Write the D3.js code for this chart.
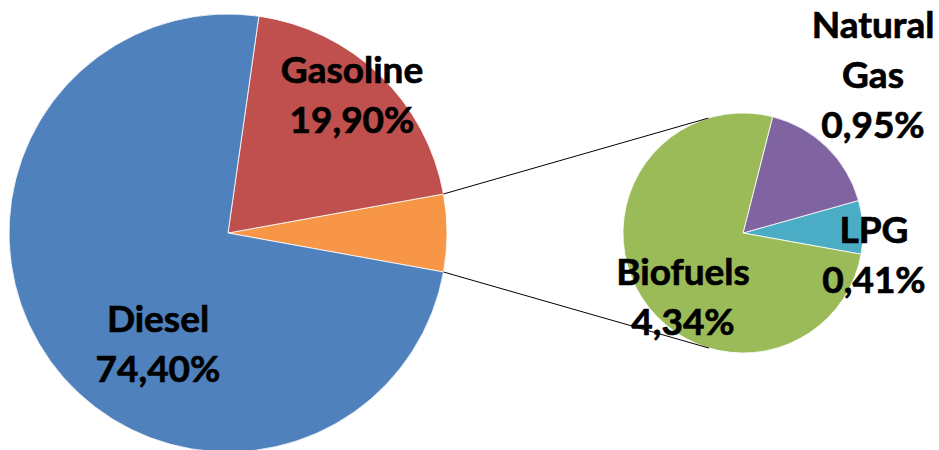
<!DOCTYPE html>
<html>
<head>
<meta charset="utf-8">
<script src="https://cdn.jsdelivr.net/npm/d3@7"></script>
<style>
  html, body { margin: 0; padding: 0; background: #fff; }
  svg { display: block; }
  text { font-family: Lato, "Open Sans", sans-serif; font-weight: 700; fill: #000; stroke: #000; stroke-width: 0.7px; }
</style>
</head>
<body>
<svg id="chart" width="939" height="450"></svg>
<script>
// ---- data ----
const mainCategories = ["Other", "Gasoline", "Diesel"];
const mainValues = [5.70, 19.90, 74.40];
const mainColors = ["#F79646", "#C0504D", "#4F81BD"];

const subCategories = ["LPG", "Natural Gas", "Biofuels"];
const subValues = [0.41, 0.95, 4.34];
const subColors = ["#4BACC6", "#8064A2", "#9BBB59"];

const labelLines = {
  "Gasoline": ["Gasoline", "19,90%"],
  "Diesel": ["Diesel", "74,40%"],
  "Natural Gas": ["Natural", "Gas", "0,95%"],
  "LPG": ["LPG", "0,41%"],
  "Biofuels": ["Biofuels", "4,34%"]
};

// ---- layout ----
const svg = d3.select("#chart");
const deg = Math.PI / 180;
const main = { cx: 228, cy: 233, r: 219 };
const sub = { cx: 743, cy: 233, r: 120 };
const fontSize = 37, lineH = 50;
// label anchor (center x, first baseline y)
const labelPos = {
  "Gasoline": [352, 83],
  "Diesel": [158, 332],
  "Natural Gas": [873, 38],
  "LPG": [874, 243],
  "Biofuels": [683, 285]
};

// main pie: "Other" slice centred on the right-hand horizontal, going counter-clockwise
const otherShare = mainValues[0] / d3.sum(mainValues);
const mainStart = 90 * deg + otherShare * Math.PI;
const mainPie = d3.pie().sort(null).startAngle(mainStart).endAngle(mainStart - 2 * Math.PI);
const mainArcs = mainPie(mainValues);
const mainArc = d3.arc().innerRadius(0).outerRadius(main.r);

const gMain = svg.append("g").attr("transform", `translate(${main.cx},${main.cy})`);
gMain.selectAll("path").data(mainArcs).join("path")
  .attr("d", mainArc)
  .attr("fill", (d, i) => mainColors[i])
  .attr("stroke", "#fff").attr("stroke-width", 0.8);

// secondary pie
const subStart = 100.2 * deg;
const subPie = d3.pie().sort(null).startAngle(subStart).endAngle(subStart - 2 * Math.PI);
const subArcs = subPie(subValues);
const subArc = d3.arc().innerRadius(0).outerRadius(sub.r);

const gSub = svg.append("g").attr("transform", `translate(${sub.cx},${sub.cy})`);
gSub.selectAll("path").data(subArcs).join("path")
  .attr("d", subArc)
  .attr("fill", (d, i) => subColors[i])
  .attr("stroke", "#fff").attr("stroke-width", 0.8);

// connector lines from the "Other" slice edges to the secondary pie
const o = mainArcs[0];
function pt(c, r, a) { return [c.cx + r * Math.sin(a), c.cy - r * Math.cos(a)]; }
const p1 = pt(main, main.r, o.endAngle);   // upper edge
const p2 = pt(main, main.r, o.startAngle); // lower edge
const q1 = pt(sub, sub.r, -16.8 * deg);
const q2 = pt(sub, sub.r, 196.5 * deg);
svg.append("line").attr("x1", p1[0]).attr("y1", p1[1]).attr("x2", q1[0]).attr("y2", q1[1])
  .attr("stroke", "#000").attr("stroke-width", 1);
svg.append("line").attr("x1", p2[0]).attr("y1", p2[1]).attr("x2", q2[0]).attr("y2", q2[1])
  .attr("stroke", "#000").attr("stroke-width", 1);

// labels
const labelNames = [mainCategories[1], mainCategories[2], ...subCategories];
labelNames.forEach(name => {
  const [x, y] = labelPos[name];
  const t = svg.append("text").attr("text-anchor", "middle").attr("font-size", fontSize);
  labelLines[name].forEach((s, i) => {
    t.append("tspan").attr("x", x).attr("y", y + i * lineH).text(s);
  });
});
</script>
</body>
</html>
